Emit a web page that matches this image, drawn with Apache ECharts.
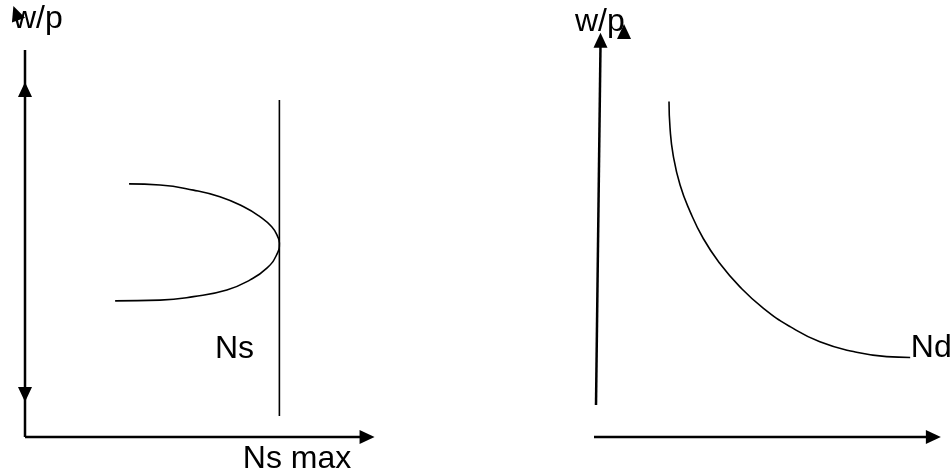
<!DOCTYPE html>
<html>
<head>
<meta charset="utf-8">
<script src="https://cdn.jsdelivr.net/npm/echarts@6/dist/echarts.min.js"></script>
<style>html,body{margin:0;padding:0;background:#fff;}#c{width:952px;height:475px;}</style>
</head>
<body>
<div id="c"></div>
<script>
// ---- Data (diagram units: each panel spans 0..100 on both axes) ----
// Left panel: labour supply
const leftWageAxis = [[0, 0], [0, 99.2]];
const leftLabourAxis = [[0, 0], [98, 0]];
const nsMaxLine = [[73.1, 86.4], [73.1, 5.4]];
const supplyCurve = [[29.9, 64.9], [38.8, 64.6], [48.4, 63.3], [56.0, 61.6], [62.7, 59.1], [67.5, 56.5], [70.9, 53.9],
  [72.6, 51.4], [73.1, 49.7], [72.3, 46.7], [69.5, 43.3], [64.7, 40.3], [58.0, 37.7], [48.4, 36.0], [38.8, 35.1], [25.9, 34.9]];
const leftArrowPoints = [[0, 89.1], [0, 10.9], [98.3, 0], [-2.6, 108.7]];
const leftArrowTurns = [0, 180, -90, 20];
const leftLabelNames = ['w/p', 'Ns', 'Ns max'];
const leftLabelPoints = [[-3.45, 107.2], [54.6, 22.6], [62.6, -5.6]];

// Right panel: labour demand
const rightWageAxis = [[0, 8.2], [1.3, 100.5]];
const rightLabourAxis = [[-0.6, 0], [97, 0]];
const demandCurve = [[21.1, 86.0], [21.4, 79.2], [22.3, 72.3], [24.3, 64.6], [27.2, 57.8], [31.0, 50.9], [35.8, 44.5],
  [41.6, 38.5], [48.4, 33.0], [56.1, 28.3], [64.7, 24.4], [74.4, 21.9], [84.0, 20.6], [90.8, 20.4]];
const rightArrowPoints = [[1.3, 101.7], [8.1, 104], [97.5, 0]];
const rightArrowTurns = [0, 0, -90];
const rightLabelNames = ['w/p', 'Nd'];
const rightLabelPoints = [[-6.1, 106.4], [91.0, 22.8]];

// ---- Chart ----
const FONT = "'Liberation Sans', Arial, sans-serif";
const chart = echarts.init(document.getElementById('c'), null, {renderer: 'canvas'});

function lineSeries(data, idx, width) {
  return {type: 'line', xAxisIndex: idx, yAxisIndex: idx, data: data, symbol: 'none', clip: false,
    smooth: false, silent: true, lineStyle: {color: '#000', width: width}, animation: false};
}
function curveSeries(data, idx) {
  const s = lineSeries(data, idx, 1.6);
  s.smooth = 0.5;
  return s;
}
function arrowSeries(points, turns, idx) {
  return {type: 'scatter', xAxisIndex: idx, yAxisIndex: idx, clip: false, silent: true, animation: false,
    symbol: 'triangle', symbolSize: [14, 15],
    data: points.map((p, i) => ({value: p, symbolRotate: turns[i]})),
    itemStyle: {color: '#000', opacity: 1}};
}
function labelSeries(names, points, idx) {
  return {type: 'scatter', xAxisIndex: idx, yAxisIndex: idx, clip: false, silent: true, animation: false,
    symbolSize: 0, itemStyle: {opacity: 1, color: '#000'},
    data: names.map((n, i) => ({name: n, value: points[i]})),
    label: {show: true, position: 'inside', align: 'left', verticalAlign: 'middle', opacity: 1,
      formatter: '{b}', color: '#000', fontSize: 32, fontFamily: FONT}};
}

const hiddenAxis = (gi) => ({type: 'value', gridIndex: gi, min: 0, max: 100, show: false});

chart.setOption({
  backgroundColor: '#fff',
  animation: false,
  grid: [
    {left: 25, top: 47, width: 348, height: 390},
    {left: 596, top: 47, width: 346, height: 390}
  ],
  xAxis: [hiddenAxis(0), hiddenAxis(1)],
  yAxis: [hiddenAxis(0), hiddenAxis(1)],
  series: [
    lineSeries(leftWageAxis, 0, 2.5),
    lineSeries(leftLabourAxis, 0, 2.5),
    lineSeries(nsMaxLine, 0, 1.6),
    curveSeries(supplyCurve, 0),
    arrowSeries(leftArrowPoints, leftArrowTurns, 0),
    labelSeries(leftLabelNames, leftLabelPoints, 0),
    lineSeries(rightWageAxis, 1, 2.5),
    lineSeries(rightLabourAxis, 1, 2.5),
    curveSeries(demandCurve, 1),
    arrowSeries(rightArrowPoints, rightArrowTurns, 1),
    labelSeries(rightLabelNames, rightLabelPoints, 1)
  ]
});
</script>
</body>
</html>
